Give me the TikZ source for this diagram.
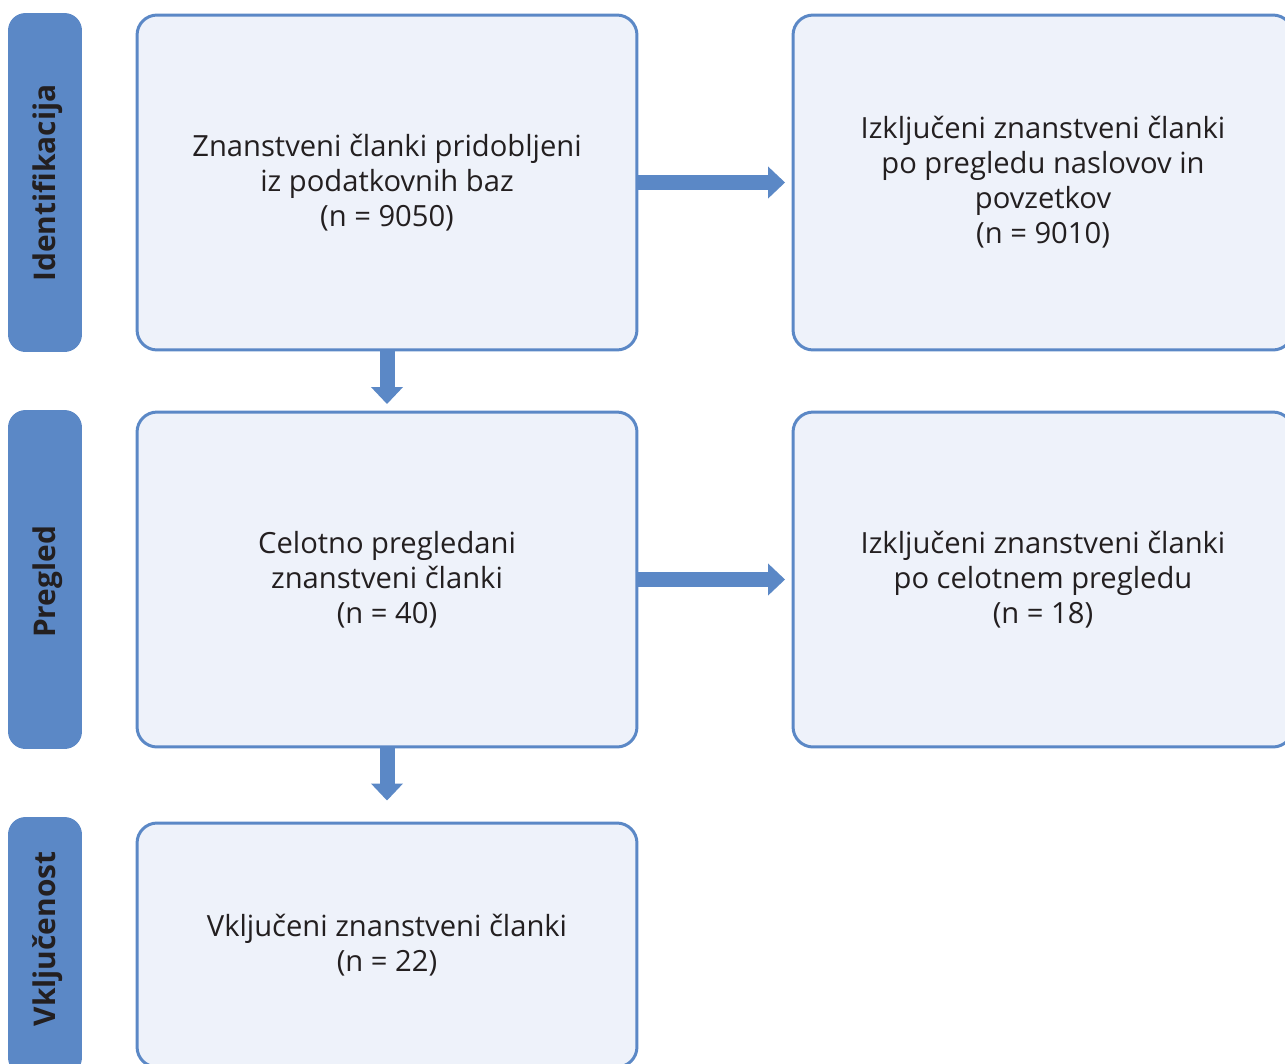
\documentclass[tikz,border=0pt]{standalone}
\usepackage{fontspec}
\setmainfont{Open Sans}
\usetikzlibrary{arrows.meta}
\definecolor{modra}{RGB}{91,136,198}
\definecolor{svetla}{RGB}{238,242,250}
\definecolor{crna}{RGB}{35,31,32}
\tikzset{
  okvir/.style={draw=modra, fill=svetla, line width=1.7pt, rounded corners=0.4cm,
    minimum width=10cm, minimum height=6.7cm, inner sep=0pt, align=center,
    text=crna, font=\fontsize{16.6}{19.9}\selectfont},
  stolpec/.style={fill=modra, rounded corners=0.35cm, minimum width=1.48cm,
    minimum height=6.78cm, inner sep=0pt},
  oznaka/.style={text=crna, font=\fontsize{17}{20}\selectfont\bfseries, inner sep=0pt},
  puscica/.style={draw=modra, line width=0.3cm,
    -{Triangle[width=0.62cm,length=0.34cm]}, shorten >=0.13cm}
}
\begin{document}
\begin{tikzpicture}[x=0.02cm, y=-0.02cm]
        \useasboundingbox (0,0) rectangle (1285,1063);
        \clip (0,0) rectangle (1285,1063);
        % Stolpci na levi
        \node[stolpec] (s1) at (45,182.5) {};
        \node[stolpec] (s2) at (45,579.5) {};
        \node[stolpec, minimum height=5.16cm] (s3) at (45,946) {};
        \node[oznaka, rotate=90] (o1) at (48,183) {Identifikacija};
        \node[oznaka, rotate=90] (o2) at (48,582) {Pregled};
        \node[oznaka, rotate=90] (o3) at (48,939) {Vključenost};
        % Glavni okvirji
        \node[okvir] (b1) at (387,182.5) {Znanstveni članki pridobljeni\\iz podatkovnih baz\\(n = 9050)};
        \node[okvir] (b2) at (387,579.5) {Celotno pregledani\\znanstveni članki\\(n = 40)};
        \node[okvir, minimum height=4.88cm] (b3) at (387,945) {Vključeni znanstveni članki\\(n = 22)};
        % Izključeni
        \node[okvir] (r1) at (1043,182.5) {Izključeni znanstveni članki\\po pregledu naslovov in\\povzetkov\\(n = 9010)};
        \node[okvir] (r2) at (1043,579.5) {Izključeni znanstveni članki\\po celotnem pregledu\\(n = 18)};
        % Puščice
        \draw[puscica] (b1.east) -- (r1.west);
        \draw[puscica] (b2.east) -- (r2.west);
        \draw[puscica] (b1.south) -- (b2.north);
        \draw[puscica, shorten >=0.42cm] (b2.south) -- (b3.north);
\end{tikzpicture}
\end{document}
